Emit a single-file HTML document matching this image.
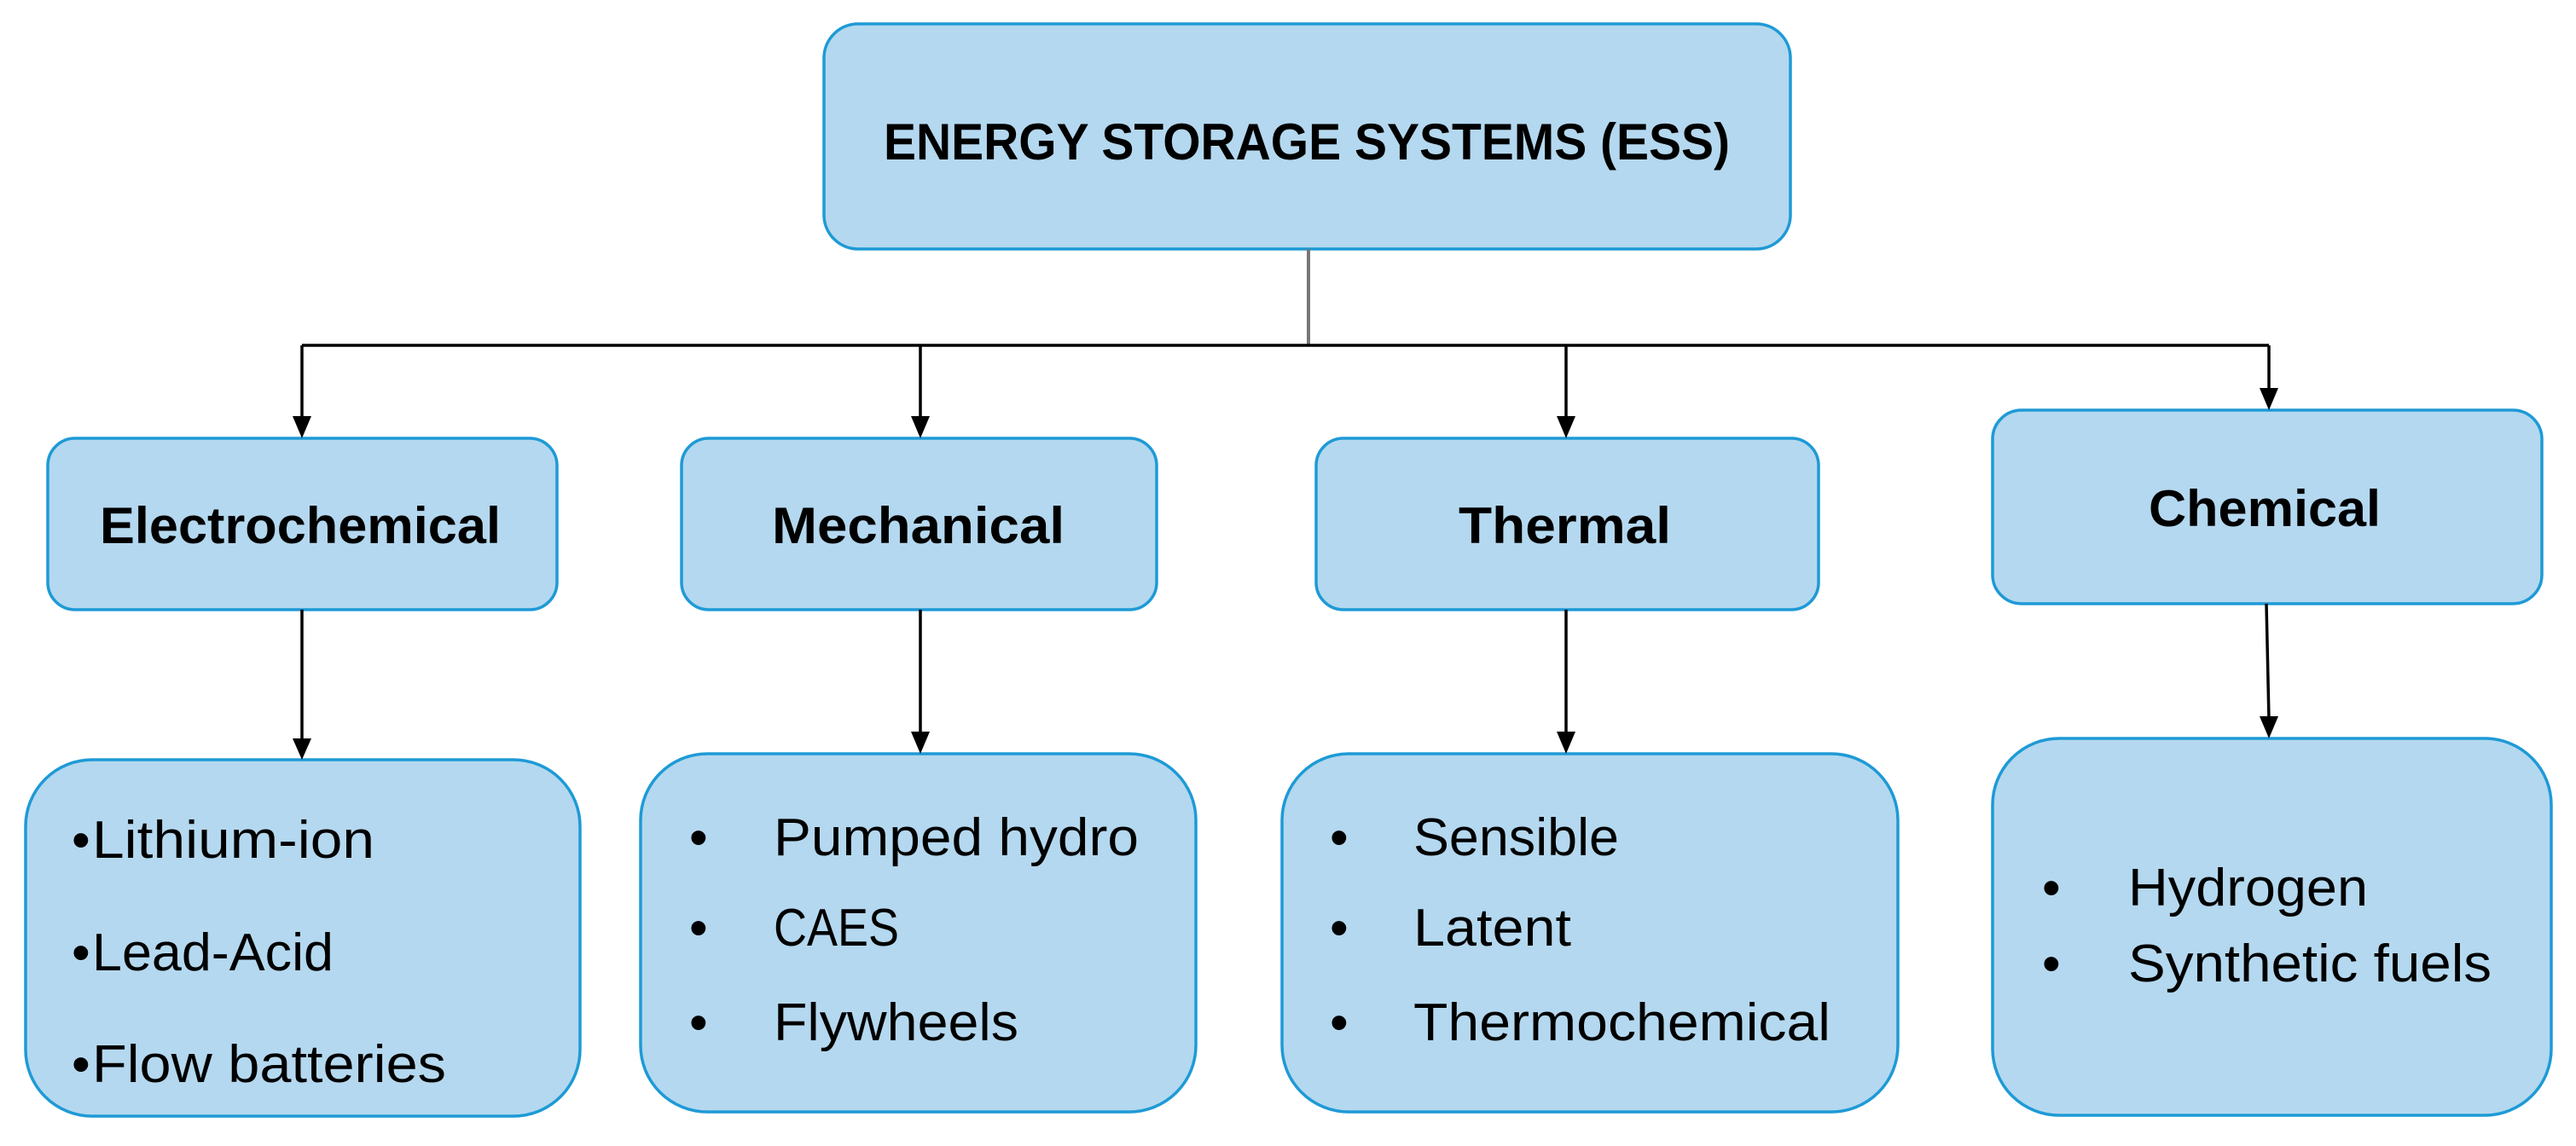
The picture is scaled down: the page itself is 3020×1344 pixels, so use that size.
<!DOCTYPE html>
<html><head><meta charset="utf-8"><style>
html,body{margin:0;padding:0;background:#fff;width:3020px;height:1344px;overflow:hidden}
text{font-family:"Liberation Sans",sans-serif;fill:#000}
.b{font-weight:bold;font-size:60px}
.r{font-size:62px}
</style></head><body>
<svg width="3020" height="1344" viewBox="0 0 3020 1344" xmlns="http://www.w3.org/2000/svg">
<g fill="#b4d8ef" stroke="#1e9ad6" stroke-width="3.5">
<rect x="966" y="28" width="1133" height="264" rx="40"/>
<rect x="56" y="514" width="597" height="201" rx="32"/>
<rect x="799" y="514" width="557" height="201" rx="32"/>
<rect x="1543" y="514" width="589" height="201" rx="32"/>
<rect x="2336" y="481" width="644" height="227" rx="34"/>
<rect x="30" y="891" width="650" height="418" rx="78"/>
<rect x="751" y="884" width="651" height="420" rx="78"/>
<rect x="1503" y="884" width="722" height="420" rx="78"/>
<rect x="2336" y="866" width="655" height="442" rx="78"/>
</g>
<line x1="1534" y1="292" x2="1534" y2="405" stroke="#777" stroke-width="4"/>
<g stroke="#000" stroke-width="3.5" fill="none">
<line x1="354" y1="405" x2="2660" y2="405"/>
<line x1="354" y1="405" x2="354" y2="492"/>
<line x1="1079" y1="405" x2="1079" y2="492"/>
<line x1="1836" y1="405" x2="1836" y2="492"/>
<line x1="2660" y1="405" x2="2660" y2="459"/>
<line x1="354" y1="715" x2="354" y2="870"/>
<line x1="1079" y1="715" x2="1079" y2="862"/>
<line x1="1836" y1="715" x2="1836" y2="862"/>
<line x1="2657" y1="708" x2="2660" y2="844"/>
</g>
<g fill="#000">
<polygon points="343,488 365,488 354,514"/>
<polygon points="1068,488 1090,488 1079,514"/>
<polygon points="1825,488 1847,488 1836,514"/>
<polygon points="2649,455 2671,455 2660,481"/>
<polygon points="343,866 365,866 354,891"/>
<polygon points="1068,858 1090,858 1079,884"/>
<polygon points="1825,858 1847,858 1836,884"/>
<polygon points="2649,840 2671,840 2660,866"/>
</g>
<text class="b" x="1036" y="187" textLength="992" lengthAdjust="spacingAndGlyphs">ENERGY STORAGE SYSTEMS (ESS)</text>
<text class="b" x="117" y="637" textLength="470" lengthAdjust="spacingAndGlyphs">Electrochemical</text>
<text class="b" x="905" y="637" textLength="343" lengthAdjust="spacingAndGlyphs">Mechanical</text>
<text class="b" x="1710" y="637" textLength="249" lengthAdjust="spacingAndGlyphs">Thermal</text>
<text class="b" x="2519" y="617" textLength="272" lengthAdjust="spacingAndGlyphs">Chemical</text>
<g class="r">
<text class="r" x="84" y="1006">•</text><text class="r" x="108" y="1006" textLength="331" lengthAdjust="spacingAndGlyphs">Lithium-ion</text>
<text class="r" x="84" y="1138">•</text><text class="r" x="108" y="1138" textLength="283" lengthAdjust="spacingAndGlyphs">Lead-Acid</text>
<text class="r" x="84" y="1269">•</text><text class="r" x="108" y="1269" textLength="415" lengthAdjust="spacingAndGlyphs">Flow batteries</text>
<text class="r" x="808" y="1003">•</text><text class="r" x="907" y="1003" textLength="428" lengthAdjust="spacingAndGlyphs">Pumped hydro</text>
<text class="r" x="808" y="1109">•</text><text class="r" x="907" y="1109" textLength="147" lengthAdjust="spacingAndGlyphs">CAES</text>
<text class="r" x="808" y="1220">•</text><text class="r" x="907" y="1220" textLength="287" lengthAdjust="spacingAndGlyphs">Flywheels</text>
<text class="r" x="1559" y="1003">•</text><text class="r" x="1657" y="1003" textLength="241" lengthAdjust="spacingAndGlyphs">Sensible</text>
<text class="r" x="1559" y="1109">•</text><text class="r" x="1657" y="1109" textLength="185" lengthAdjust="spacingAndGlyphs">Latent</text>
<text class="r" x="1559" y="1220">•</text><text class="r" x="1657" y="1220" textLength="489" lengthAdjust="spacingAndGlyphs">Thermochemical</text>
<text class="r" x="2394" y="1062">•</text><text class="r" x="2495" y="1062" textLength="281" lengthAdjust="spacingAndGlyphs">Hydrogen</text>
<text class="r" x="2394" y="1151">•</text><text class="r" x="2495" y="1151" textLength="426" lengthAdjust="spacingAndGlyphs">Synthetic fuels</text>
</g>
</svg>
</body></html>
